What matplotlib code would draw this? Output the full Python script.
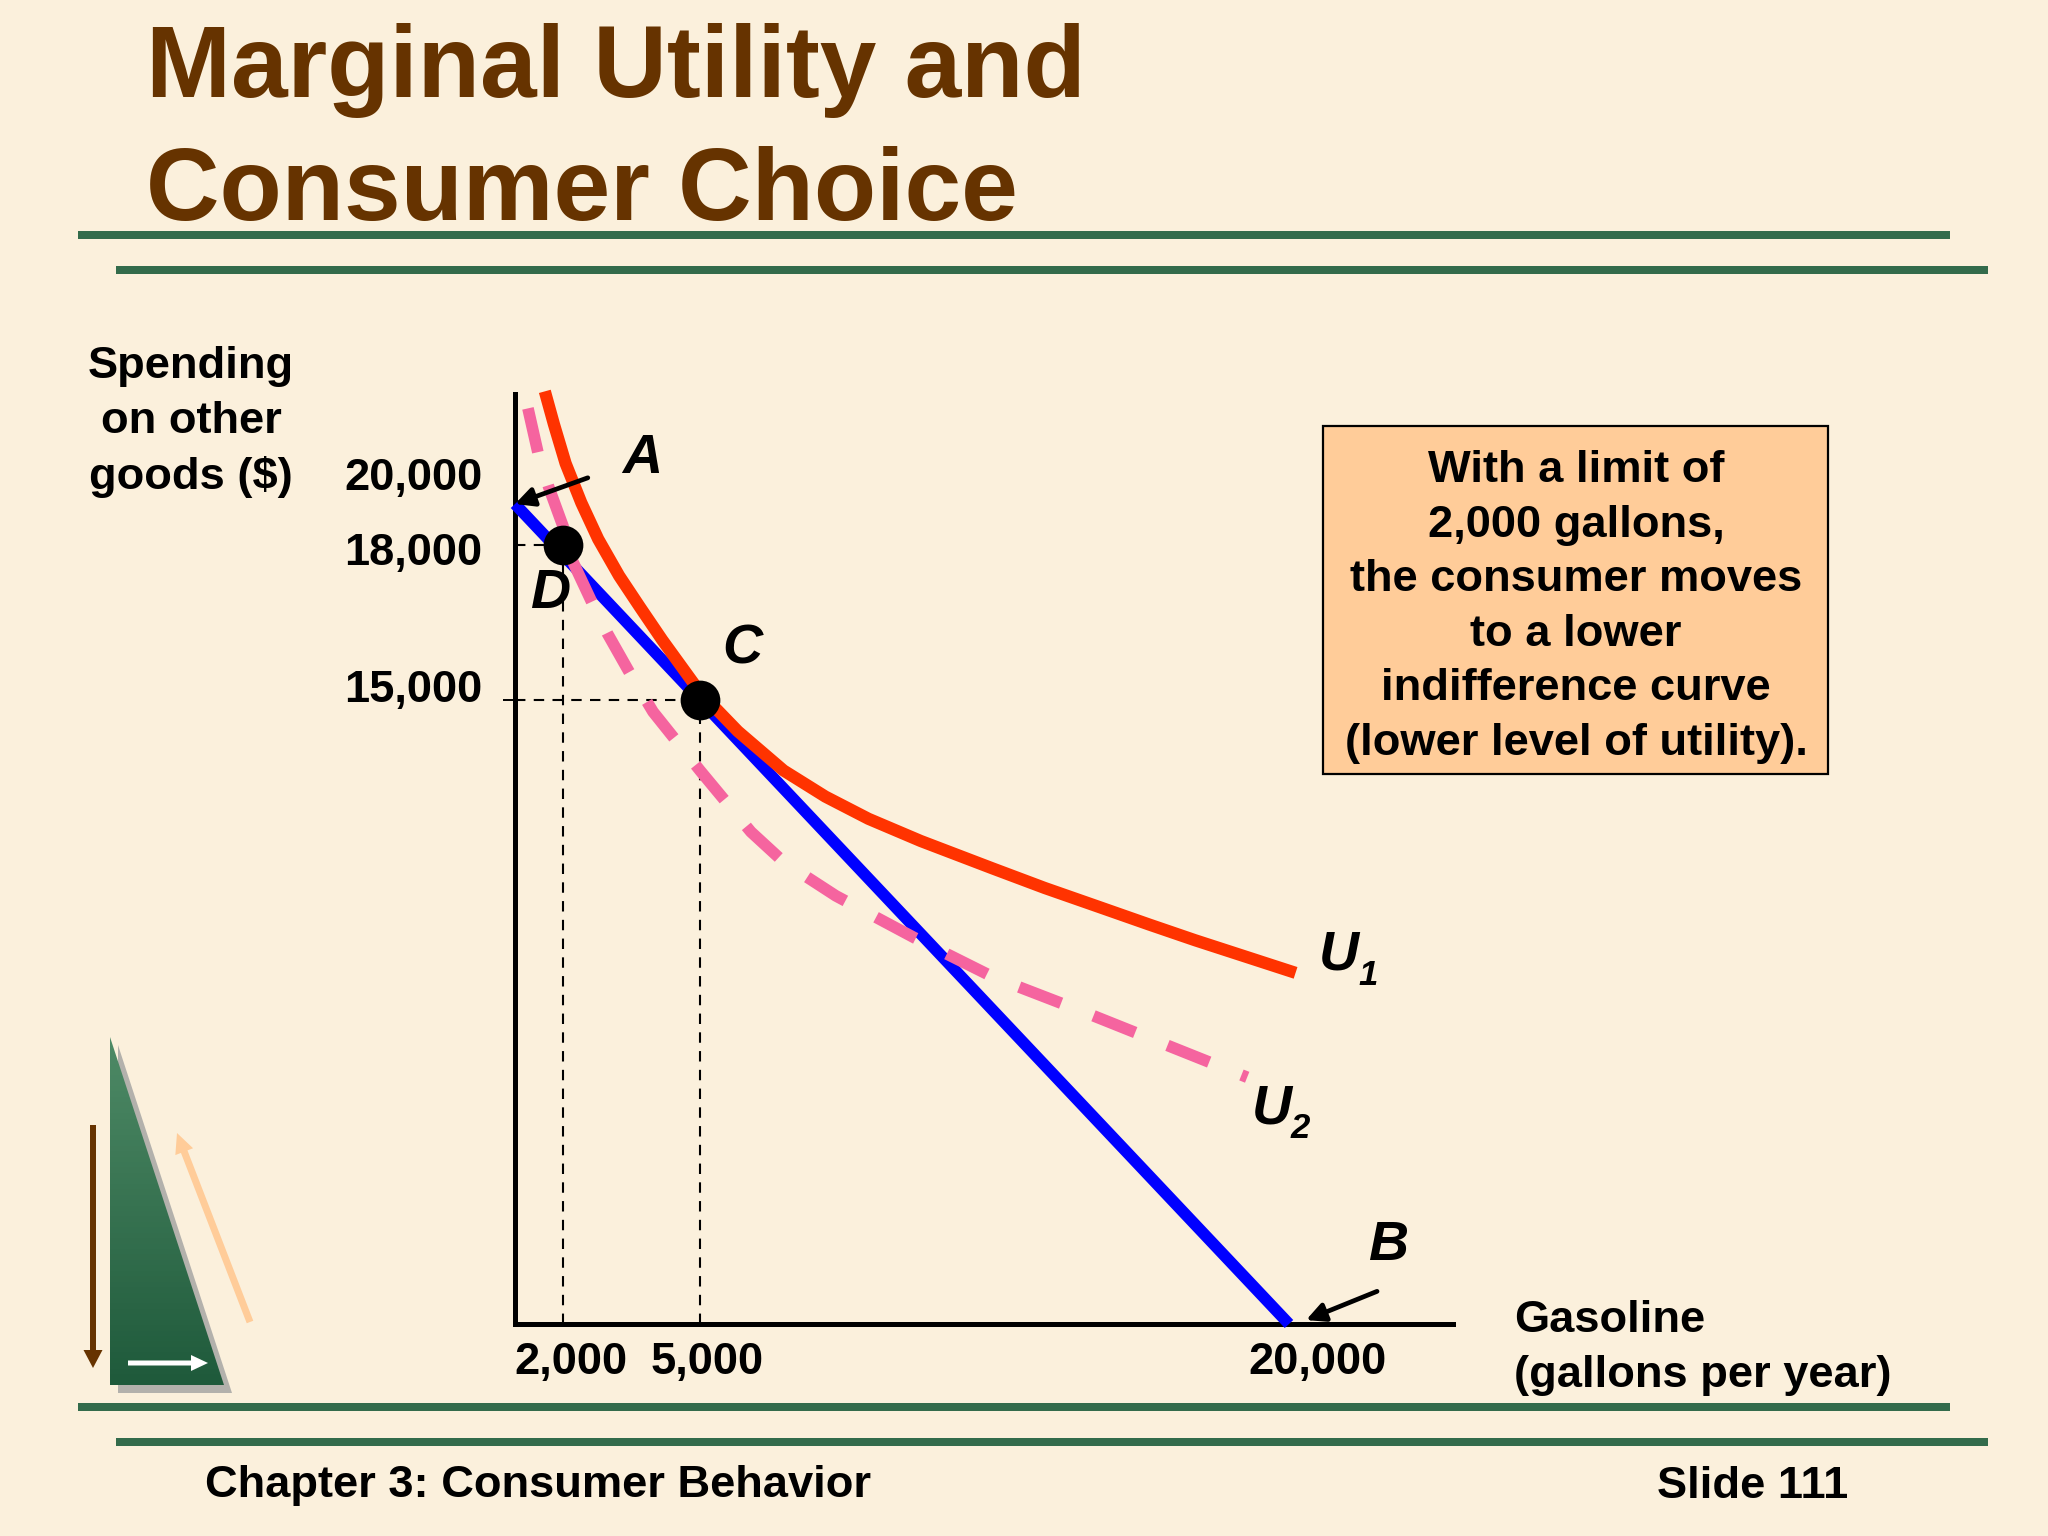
import numpy as np
import matplotlib
matplotlib.use("Agg")
import matplotlib.pyplot as plt
from matplotlib.colors import LinearSegmentedColormap
from matplotlib.patches import FancyArrow, Polygon, Rectangle
from matplotlib.transforms import ScaledTranslation

# budget line and the two indifference curves, gallons vs dollars
budget_x = [0, 5000, 20000]
budget_y = [20000, 15000, 0]
u1_x = [1243, 1620, 2057, 2400, 2771, 3229, 3686, 4171, 5000, 5965, 7129, 8193,
        9291, 10621, 12450, 13780, 15111, 16441, 17605, 20166]
u1_y = [25375, 23813, 21938, 20063, 18286, 17404, 16796, 16164, 15152, 14247, 13305, 12678,
        12144, 11611, 10952, 10481, 10042, 9602, 9226, 8441]
u2_x = [540, 972, 1404, 2000, 2200, 2629, 2971, 3457, 3971, 5000, 6297, 7129, 8459,
        10454, 12450, 14778, 17106, 18935]
u2_y = [24563, 22375, 20812, 18920, 17707, 16898, 16290, 15531, 14717, 13305, 11830, 11108, 10293,
        9288, 8347, 7500, 6621, 5931]
points_x = [5000, 2000]
points_y = [15000, 18000]

x_ticks = [2000, 5000, 20000]
x_tick_labels = ["2,000", "5,000", "20,000"]
y_ticks = [15000, 18000, 20000]
y_tick_labels = ["15,000", "18,000", "20,000"]

title_lines = ["Marginal Utility and", "Consumer Choice"]
note = ("With a limit of\n2,000 gallons,\nthe consumer moves\nto a lower\n"
        "indifference curve\n(lower level of utility).")

# the slide's axes are not to scale, these knots follow the drawn tick spacing
x_knots = [0, 2000, 5000, 20000, 24150]
x_pos = [0, 48, 185, 774, 938]
y_knots = [0, 15000, 18000, 20000, 25440]
y_pos = [0, 624, 779, 820, 934]

BG = "#FBF0DC"
GREEN = "#336B4B"
BROWN = "#663300"
PEACH = "#FFCC99"
W, H = 2048, 1536
BODY = 16.3
SPACING = 1.425

plt.rcParams["font.family"] = ["Liberation Sans", "DejaVu Sans"]
plt.rcParams["font.weight"] = "bold"

fig = plt.figure(figsize=(W / 200, H / 200), dpi=200, facecolor=BG)

# whole-slide layer in pixel coordinates
deco = fig.add_axes([0, 0, 1, 1], zorder=0)
deco.set_xlim(0, W)
deco.set_ylim(H, 0)
deco.axis("off")

for y, line in zip([97, 220], title_lines):
    deco.text(146, y, line, fontsize=36.7, color=BROWN, va="baseline", ha="left")

for x0, x1, y in [(78, 1950, 235), (116, 1988, 270), (78, 1950, 1407), (116, 1988, 1442)]:
    deco.add_patch(Rectangle((x0, y - 4), x1 - x0, 8, color=GREEN, lw=0))

deco.text(191, 422, "Spending\non other\ngoods ($)", fontsize=BODY, ha="center", va="center", linespacing=SPACING)
deco.text(1514, 1348, "Gasoline\n(gallons per year)", fontsize=BODY, ha="left", va="center", linespacing=SPACING)
deco.text(205, 1486, "Chapter 3: Consumer Behavior", fontsize=BODY, ha="left", va="center")
deco.text(1848, 1486, "Slide 111", fontsize=BODY, ha="right", va="center")

deco.add_patch(Rectangle((1323, 426), 505, 348, facecolor=PEACH, edgecolor="black", lw=0.8))
deco.text(1576, 607, note, fontsize=BODY, ha="center", va="center", linespacing=SPACING)

# triangle icon bottom left
deco.add_patch(Polygon([(118, 1045), (118, 1393), (232, 1393)], color="#B3B1AC", lw=0, zorder=1))
tri = Polygon([(110, 1037), (110, 1385), (224, 1385)], fc="none", lw=0, zorder=1)
deco.add_patch(tri)
grad = deco.imshow(np.linspace(0, 1, 64).reshape(-1, 1), extent=(110, 224, 1385, 1037),
                   cmap=LinearSegmentedColormap.from_list("g", ["#4E8A66", "#1F5A3B"]),
                   aspect="auto", zorder=2)
grad.set_clip_path(tri)
deco.set_xlim(0, W)
deco.set_ylim(H, 0)
deco.add_patch(FancyArrow(93, 1125, 0, 243, width=6, head_width=19, head_length=18,
                          length_includes_head=True, color=BROWN, lw=0, zorder=3))
deco.add_patch(FancyArrow(128, 1363, 80, 0, width=5, head_width=16, head_length=17,
                          length_includes_head=True, color="white", lw=0, zorder=3))
deco.add_patch(FancyArrow(250, 1322, -73, -189, width=7, head_width=19, head_length=20,
                          length_includes_head=True, color=PEACH, lw=0, zorder=3))

# chart axes
ax = fig.add_axes([515 / W, 1 - 1324 / H, 938 / W, 934 / H], zorder=1)
ax.patch.set_alpha(0)
ax.set_xscale("function", functions=(lambda v: np.interp(v, x_knots, x_pos),
                                     lambda v: np.interp(v, x_pos, x_knots)))
ax.set_yscale("function", functions=(lambda v: np.interp(v, y_knots, y_pos),
                                     lambda v: np.interp(v, y_pos, y_knots)))
ax.set_xlim(0, 24150)
ax.set_ylim(0, 25440)
for side in ["top", "right"]:
    ax.spines[side].set_visible(False)
for side in ["left", "bottom"]:
    ax.spines[side].set_linewidth(1.8)
ax.spines["left"].set_bounds(0, 25250)

ax.set_xticks(x_ticks, x_tick_labels)
ax.set_yticks(y_ticks, y_tick_labels)
ax.minorticks_off()
ax.tick_params(axis="x", length=1, width=0.7, labelsize=BODY, pad=5.5)
ax.tick_params(axis="y", length=4.3, width=0.7, labelsize=BODY, pad=7.4)
for tick, (dx, dy) in zip(ax.yaxis.get_major_ticks(), [(0, 14), (0, -4), (0, 30)]):
    if tick.get_loc() != 15000:
        tick.tick1line.set_visible(False)
    tick.label1.set_transform(tick.label1.get_transform()
                              + ScaledTranslation(dx / 200, dy / 200, fig.dpi_scale_trans))
for tick, (dx, dy) in zip(ax.xaxis.get_major_ticks(), [(8, 0), (7, 0), (28, 0)]):
    tick.label1.set_transform(tick.label1.get_transform()
                              + ScaledTranslation(dx / 200, dy / 200, fig.dpi_scale_trans))

ax.plot([2000, 2000], [0, 18000], color="black", lw=0.75, ls=(0, (5, 4)), clip_on=False)
ax.plot([0, 2000], [18000, 18000], color="black", lw=0.75, ls=(0, (5, 4)), clip_on=False)
ax.plot([5000, 5000], [0, 15000], color="black", lw=0.75, ls=(0, (5, 4)), clip_on=False)
ax.plot([0, 5000], [15000, 15000], color="black", lw=0.75, ls=(0, (5, 4)), clip_on=False)

ax.plot(budget_x, budget_y, color="#0000FF", lw=4.2, solid_capstyle="butt", clip_on=False, zorder=3)
ax.plot(u2_x, u2_y, color="#F5649F", lw=4.2, ls=(0, (3.85, 2.98)), dash_capstyle="butt",
        dash_joinstyle="round", clip_on=False, zorder=4)
ax.plot(u1_x, u1_y, color="#FF3300", lw=4.4, solid_capstyle="butt", clip_on=False, zorder=5)
ax.plot(points_x, points_y, "o", color="black", ms=14.3, mew=0, clip_on=False, zorder=6)

ax.annotate("", xy=(0, 20000), xytext=(2543, 21250), zorder=7, annotation_clip=False,
            arrowprops=dict(arrowstyle="-|>", color="black", lw=1.7, mutation_scale=14,
                            shrinkA=0, shrinkB=0))
ax.annotate("", xy=(20432, 94), xytext=(22228, 785), zorder=7, annotation_clip=False,
            arrowprops=dict(arrowstyle="-|>", color="black", lw=1.7, mutation_scale=14,
                            shrinkA=0, shrinkB=0))

# point and curve labels, pixel positions on the slide layer above the chart
top = fig.add_axes([0, 0, 1, 1], zorder=2)
top.set_xlim(0, W)
top.set_ylim(H, 0)
top.axis("off")
for x, y, s in [(622, 473, "A"), (722, 664, "C"), (530, 608, "D"), (1368, 1260, "B"),
                (1319, 970, "U"), (1252, 1124, "U")]:
    top.text(x, y, s, fontsize=20, style="italic", va="baseline", ha="left")
top.text(1358, 985, "1", fontsize=12.5, style="italic", va="baseline", ha="left")
top.text(1291, 1138, "2", fontsize=12.5, style="italic", va="baseline", ha="left")

fig.savefig("out.png", dpi=200, facecolor=BG)
